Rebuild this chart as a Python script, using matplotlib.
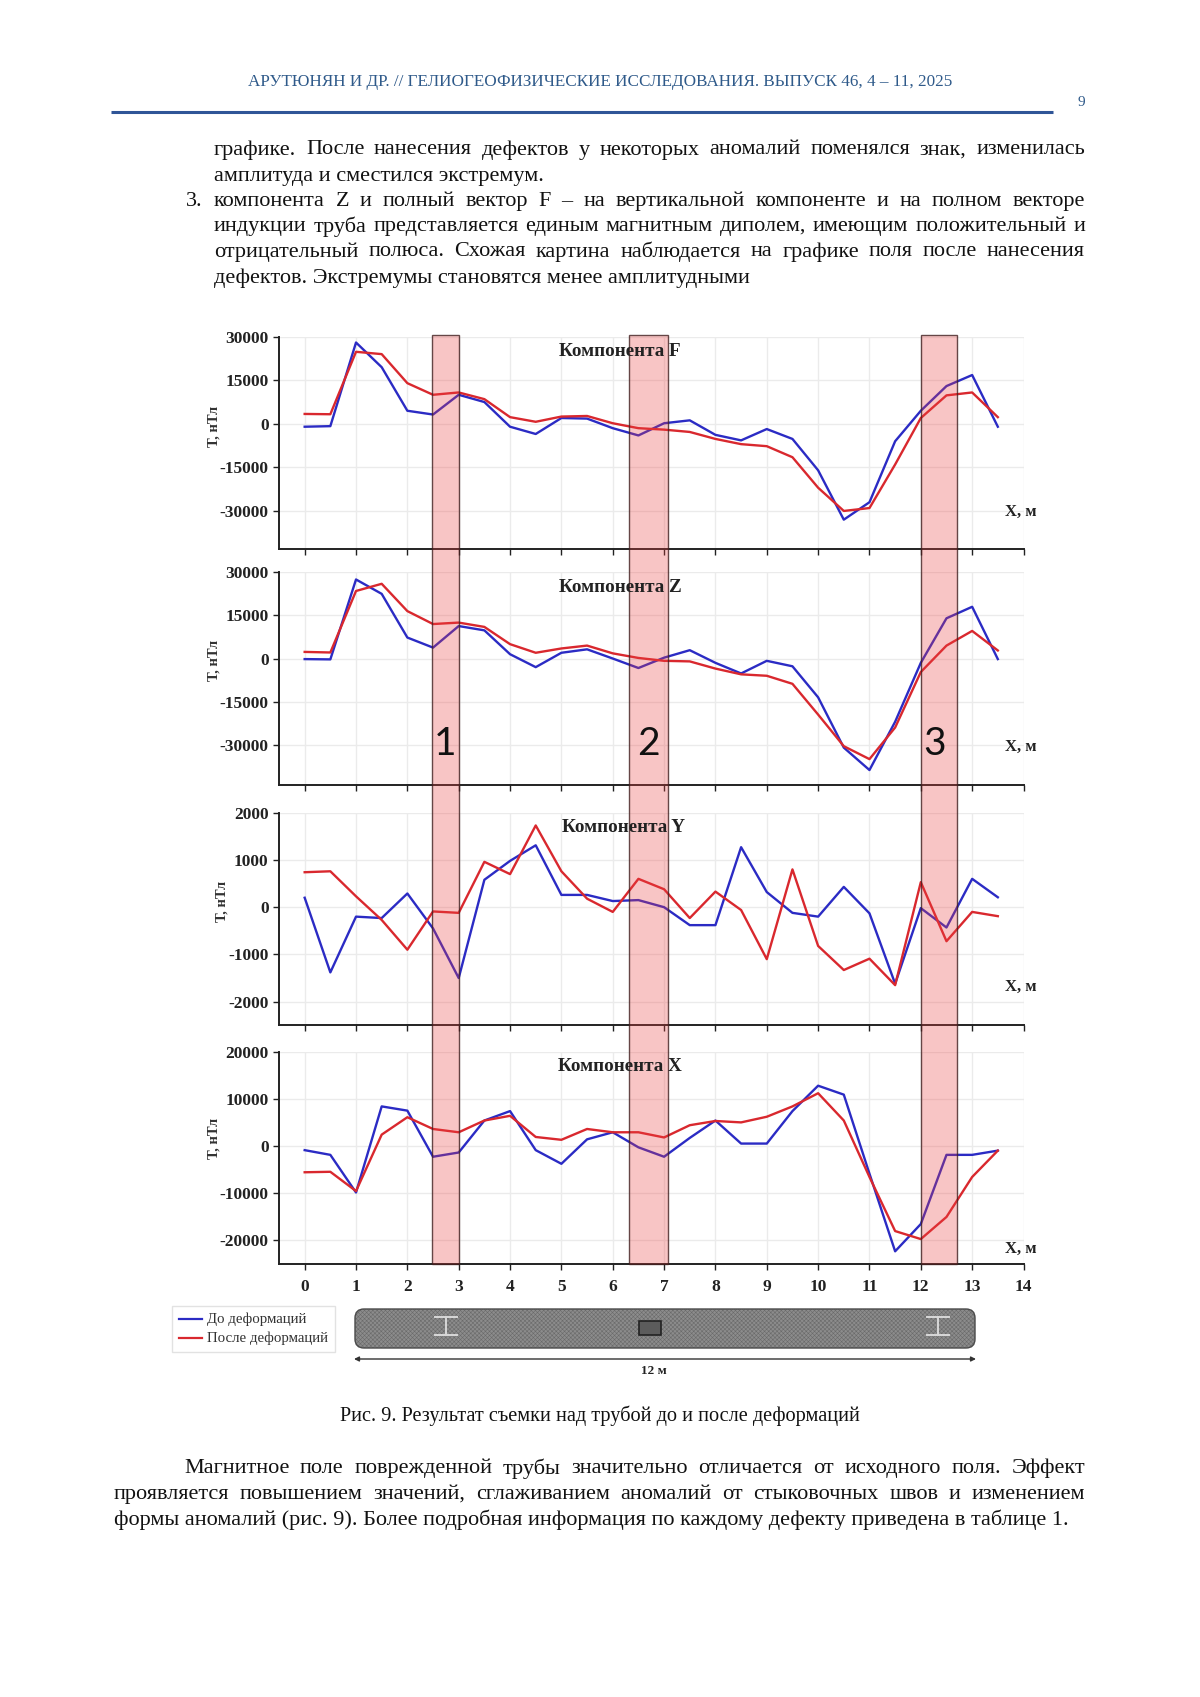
import matplotlib
matplotlib.use("Agg")
import matplotlib.pyplot as plt
from matplotlib.patches import FancyBboxPatch, Rectangle
from matplotlib.transforms import blended_transform_factory

# =========================
# DATA
# =========================
X_M = [0, 0.5, 1, 1.5, 2, 2.5, 3, 3.5, 4, 4.5, 5, 5.5, 6, 6.5, 7, 7.5, 8, 8.5, 9, 9.5,
       10, 10.5, 11, 11.5, 12, 12.5, 13, 13.5]

F_BEFORE = [-1000, -800, 28000, 19500, 4500, 3200, 10000, 7500, -1000, -3500, 2000, 1800, -1500, -4000,
            200, 1200, -3800, -5700, -1800, -5200, -16000, -33000, -27000, -6000, 4500, 13000, 16800, -1000]
F_AFTER = [3400, 3300, 24800, 24000, 14000, 10000, 10800, 8500, 2300, 700, 2500, 2700, 200, -1500,
           -2000, -2800, -5200, -7000, -7700, -11500, -22000, -30000, -29000, -14000, 2000, 9800, 10800, 2300]

Z_BEFORE = [-200, -300, 27500, 22500, 7300, 3800, 11300, 9800, 1500, -3000, 2000, 3200, 0, -3300,
            300, 2900, -1500, -5200, -800, -2700, -13500, -31000, -38800, -22000, -1500, 14000, 18000, -200]
Z_AFTER = [2300, 2100, 23500, 26000, 16500, 12000, 12500, 11000, 5000, 2000, 3500, 4500, 1800, 200,
           -800, -1000, -3500, -5500, -6000, -8800, -19500, -30500, -35000, -24000, -4700, 4500, 9600, 2800]

Y_BEFORE = [200, -1380, -200, -230, 290, -450, -1500, 580, 980, 1310, 260, 260, 130, 150,
            0, -380, -380, 1270, 320, -120, -200, 430, -130, -1620, -20, -430, 600, 210]
Y_AFTER = [740, 760, 230, -270, -900, -90, -120, 960, 700, 1730, 760, 180, -100, 600,
           380, -230, 330, -60, -1100, 800, -820, -1330, -1090, -1650, 530, -720, -100, -190]

X_BEFORE = [-800, -1800, -9800, 8500, 7600, -2200, -1300, 5500, 7500, -800, -3700, 1500, 3000, -200,
            -2200, 1800, 5500, 600, 600, 7500, 12900, 11000, -5800, -22300, -16500, -1800, -1800, -900]
X_AFTER = [-5500, -5400, -9500, 2500, 6200, 3700, 3000, 5500, 6500, 2000, 1400, 3700, 3000, 3000,
           1900, 4500, 5400, 5100, 6300, 8500, 11300, 5500, -6500, -18000, -19700, -15000, -6500, -900]

F_TICKS = [-30000, -15000, 0, 15000, 30000]
Y_TICKS = [-2000, -1000, 0, 1000, 2000]
X_COMP_TICKS = [-20000, -10000, 0, 10000, 20000]
X_TICKS = list(range(15))

DEFECT_BANDS = [(2.48, 3.0), (6.32, 7.08), (12.0, 12.7)]
DEFECT_LABELS = ["1", "2", "3"]

HEADER = "АРУТЮНЯН И ДР. // ГЕЛИОГЕОФИЗИЧЕСКИЕ ИССЛЕДОВАНИЯ. ВЫПУСК 46, 4 – 11, 2025"
TOP_LINES = [
    ("графике. После нанесения дефектов у некоторых аномалий поменялся знак, изменилась", 147.5, True),
    ("амплитуда и сместился экстремум.", 173.5, False),
    ("компонента Z и полный вектор F – на вертикальной компоненте и на полном векторе", 199, True),
    ("индукции труба представляется единым магнитным диполем, имеющим положительный и", 224, True),
    ("отрицательный полюса. Схожая картина наблюдается на графике поля после нанесения", 249.5, True),
    ("дефектов. Экстремумы становятся менее амплитудными", 275.5, False),
]
BOTTOM_LINES = [
    ("Магнитное поле поврежденной трубы значительно отличается от исходного поля. Эффект", 184, 1466, True),
    ("проявляется повышением значений, сглаживанием аномалий от стыковочных швов и изменением", 114, 1492, True),
    ("формы аномалий (рис. 9). Более подробная информация по каждому дефекту приведена в таблице 1.", 114, 1517, False),
]

# =========================
# CONFIG
# =========================
W, H = 1200, 1697
SERIF = "Liberation Serif"
BLUE = "#2b2bc4"
RED = "#d9282e"
BODY_PT = 16.0

AX_LEFT, AX_RIGHT = 279, 1023.5
# name, title, before, after, ticks, y of top tick, y of bottom spine, lower limit, upper limit,
# title x/y, y label x/y, y of "X, м"
PANELS = [
    ("Компонента F", F_BEFORE, F_AFTER, F_TICKS, 336.7, 548.7, -43000, 30000, 620, 351, 214, 426.5, 511.5),
    ("Компонента Z", Z_BEFORE, Z_AFTER, F_TICKS, 572.3, 784.7, -43900, 30000, 620, 587, 214, 660, 746.5),
    ("Компонента Y", Y_BEFORE, Y_AFTER, Y_TICKS, 812.7, 1025.3, -2500, 2000, 624, 827, 222, 901.5, 986.5),
    ("Компонента X", X_BEFORE, X_AFTER, X_COMP_TICKS, 1052.3, 1264, -25000, 20000, 620, 1066.5, 214, 1138, 1249),
]

plt.rcParams["font.family"] = [SERIF, "DejaVu Sans"]
plt.rcParams["hatch.linewidth"] = 0.4
fig = plt.figure(figsize=(W / 100, H / 100), dpi=100)

# overlay in page pixels, for everything that is not a chart mark
page = fig.add_axes([0, 0, 1, 1], zorder=5)
page.set_xlim(0, W)
page.set_ylim(H, 0)
page.axis("off")
page.patch.set_alpha(0)


def justified(text, y, x0, x1, size=BODY_PT):
    """Draw one line word by word so it runs from x0 to x1."""
    words = text.split(" ")
    renderer = fig.canvas.get_renderer()
    items = [page.text(0, y, w, fontsize=size, color="#111111", va="center_baseline", ha="left") for w in words]
    widths = [t.get_window_extent(renderer).width for t in items]
    gap = (x1 - x0 - sum(widths)) / (len(words) - 1)
    x = x0
    for t, w in zip(items, widths):
        t.set_x(x)
        x += w + gap


# =========================
# PANELS
# =========================
axes = []
for i, (title, before, after, ticks, top, bottom, lo, hi, tx, ty, lx, ly, xy) in enumerate(PANELS):
    ax = fig.add_axes([AX_LEFT / W, 1 - bottom / H, (AX_RIGHT - AX_LEFT) / W, (bottom - top) / H])
    ax.set_xlim(-0.5, 14)
    ax.set_ylim(lo, hi)
    ax.grid(True, color="#ebebeb", linewidth=1.0)
    ax.set_axisbelow(True)
    ax.plot(X_M, before, color=BLUE, linewidth=1.7, solid_joinstyle="round")
    ax.plot(X_M, after, color=RED, linewidth=1.7, solid_joinstyle="round")

    ax.set_yticks(ticks)
    ax.set_xticks(X_TICKS)
    ax.set_yticklabels([str(t) for t in ticks])
    ax.tick_params(axis="both", length=4.5, width=1.0, color="#222222", pad=3)
    ax.tick_params(axis="x", pad=6, labelbottom=i == len(PANELS) - 1)
    for lab in ax.get_yticklabels() + ax.get_xticklabels():
        lab.set_fontsize(12.5)
        lab.set_fontweight("bold")
        lab.set_color("#222222")
    ax.spines["top"].set_visible(False)
    ax.spines["right"].set_visible(False)
    for side in ["left", "bottom"]:
        ax.spines[side].set_linewidth(1.4)
        ax.spines[side].set_color("#222222")
    axes.append(ax)

    page.text(tx, ty, title, fontsize=13.8, fontweight="bold", ha="center", va="center", color="#222222")
    page.text(lx, ly, "Т, нТл", fontsize=10.5, fontweight="bold", rotation=90, ha="center", va="center", color="#333333")
    page.text(1021, xy, "X, м", fontsize=12, fontweight="bold", ha="center", va="center", color="#222222")

# defect bands run through all four panels
band_tf = blended_transform_factory(axes[0].transData, fig.transFigure)
for x0, x1 in DEFECT_BANDS:
    fig.add_artist(Rectangle((x0, 1 - 1264 / H), x1 - x0, (1264 - 335.5) / H, transform=band_tf,
                             facecolor=(0.92, 0.25, 0.25, 0.30), edgecolor=(0.25, 0.12, 0.12, 0.8),
                             linewidth=1.0, zorder=3))

for label, px in zip(DEFECT_LABELS, [445, 648, 935]):
    page.text(px, 744, label, fontsize=28, family="Lato", ha="center", va="center", color="#111111")

# =========================
# LEGEND AND PIPE SKETCH
# =========================
page.add_patch(Rectangle((172, 1306), 163, 46, facecolor="white", edgecolor="#e2e2e2", linewidth=1.0))
page.plot([179, 202], [1319, 1319], color=BLUE, linewidth=1.6)
page.plot([179, 202], [1338, 1338], color=RED, linewidth=1.6)
page.text(207, 1319, "До деформаций", fontsize=10.7, va="center", color="#333333")
page.text(207, 1338, "После деформаций", fontsize=10.7, va="center", color="#333333")

page.add_patch(FancyBboxPatch((355, 1309), 620, 39, boxstyle="round,pad=0,rounding_size=9", mutation_aspect=1,
                              facecolor="#8c8c8c", edgecolor="#6a6a6a", linewidth=0.0, hatch="xxxxxxxx"))
page.add_patch(FancyBboxPatch((355, 1309), 620, 39, boxstyle="round,pad=0,rounding_size=9", mutation_aspect=1,
                              facecolor="none", edgecolor="#4a4a4a", linewidth=1.0))
for cx in [446, 938]:
    page.plot([cx - 11, cx + 11], [1317, 1317], color="#d8d8d8", linewidth=1.4)
    page.plot([cx - 11, cx + 11], [1335, 1335], color="#d8d8d8", linewidth=1.4)
    page.plot([cx, cx], [1317, 1335], color="#d8d8d8", linewidth=1.4)
page.add_patch(Rectangle((639, 1321), 22, 14, facecolor="#5c5c5c", edgecolor="#222222", linewidth=1.2))
page.annotate("", xy=(354, 1359), xytext=(976, 1359),
              arrowprops=dict(arrowstyle="<|-|>", color="#333333", linewidth=1.0, mutation_scale=7, shrinkA=0, shrinkB=0))
page.text(654, 1371, "12 м", fontsize=9.5, fontweight="bold", ha="center", va="center", color="#222222")

# =========================
# PAGE TEXT
# =========================
page.text(600, 82.5, HEADER, fontsize=12.3, color="#2f5a8a", ha="center", va="center")
page.plot([111, 1053], [112, 112], color="#2f5597", linewidth=2.2, solid_capstyle="butt")
page.text(1081, 102, "9", fontsize=11, color="#2f5a8a", ha="center", va="center")

page.text(186, 199, "3.", fontsize=BODY_PT, color="#111111", va="center_baseline")
for text, y, just in TOP_LINES:
    if just:
        justified(text, y, 214, 1085)
    else:
        page.text(214, y, text, fontsize=BODY_PT, color="#111111", va="center_baseline")

page.text(600, 1416, "Рис. 9. Результат съемки над трубой до и после деформаций",
          fontsize=14.6, color="#111111", ha="center", va="center")

for text, x0, y, just in BOTTOM_LINES:
    if just:
        justified(text, y, x0, 1085)
    else:
        page.text(x0, y, text, fontsize=BODY_PT, color="#111111", va="center_baseline")

fig.savefig("out.png", dpi=100)
